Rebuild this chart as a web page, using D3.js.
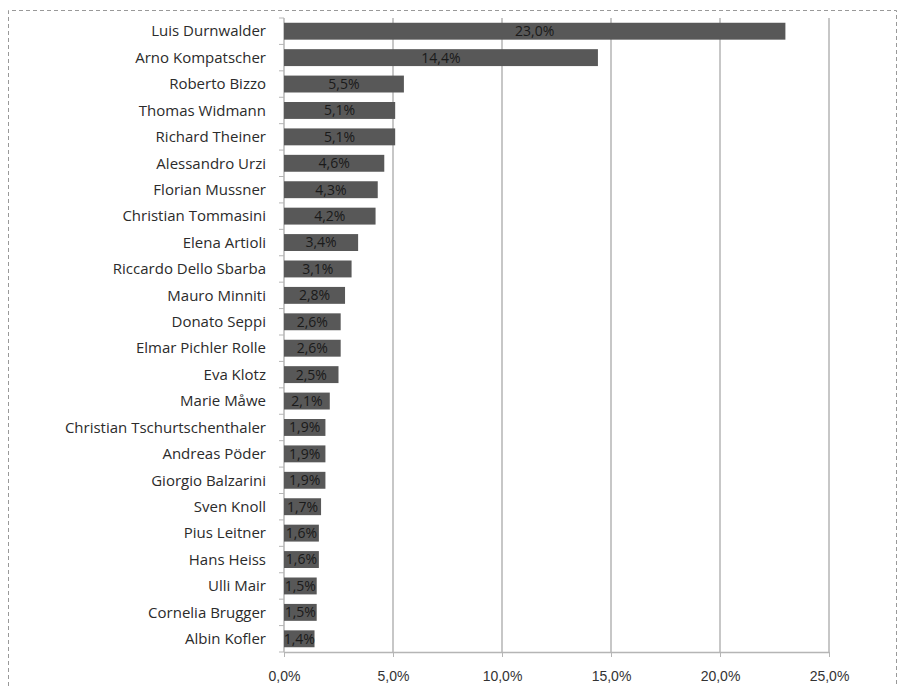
<!DOCTYPE html>
<html>
<head>
<meta charset="utf-8">
<script src="https://d3js.org/d3.v7.min.js"></script>
<style>
    body { margin: 0; background: #fff; }
    svg { display: block; font-family: "Open Sans", Lato, sans-serif; }
</style>
</head>
<body>
<svg width="897" height="686"></svg>
<script>
    // candidate names, top to bottom
    const names = [
        "Luis Durnwalder", "Arno Kompatscher", "Roberto Bizzo", "Thomas Widmann",
        "Richard Theiner", "Alessandro Urzi", "Florian Mussner", "Christian Tommasini",
        "Elena Artioli", "Riccardo Dello Sbarba", "Mauro Minniti", "Donato Seppi",
        "Elmar Pichler Rolle", "Eva Klotz", "Marie Måwe", "Christian Tschurtschenthaler",
        "Andreas Pöder", "Giorgio Balzarini", "Sven Knoll", "Pius Leitner",
        "Hans Heiss", "Ulli Mair", "Cornelia Brugger", "Albin Kofler"
    ];
    // share in percent
    const shares = [
        23.0, 14.4, 5.5, 5.1, 5.1, 4.6, 4.3, 4.2,
        3.4, 3.1, 2.8, 2.6, 2.6, 2.5, 2.1, 1.9,
        1.9, 1.9, 1.7, 1.6, 1.6, 1.5, 1.5, 1.4
    ];
    const xTicks = [0, 5, 10, 15, 20, 25];

    const data = names.map((n, i) => ({ name: n, value: shares[i] }));
    const fmt = v => v.toFixed(1).replace(".", ",") + "%";

    const svg = d3.select("svg");
    const margin = { top: 18, left: 284, right: 68, bottom: 34 };
    const width = 897 - margin.left - margin.right;
    const height = 686 - margin.top - margin.bottom;

    // dashed frame around the picture
    svg.append("path")
        .attr("d", "M8.5,686 V10.5 H896.5 V686")
        .attr("fill", "none")
        .attr("stroke", "#999")
        .attr("stroke-dasharray", "4,3");

    const g = svg.append("g").attr("transform", `translate(${margin.left},${margin.top})`);

    const x = d3.scaleLinear().domain([0, 25]).range([0, width]);
    const y = d3.scaleBand().domain(names).range([0, height]).paddingInner(0.36).paddingOuter(0.18);

    // vertical gridlines
    g.selectAll(".grid").data(xTicks.slice(1)).enter().append("line")
        .attr("x1", d => x(d)).attr("x2", d => x(d))
        .attr("y1", 0).attr("y2", height)
        .attr("stroke", "#b5b5b5").attr("stroke-width", 1.5);

    // x axis
    const xAxis = g.append("g")
        .attr("transform", `translate(0,${height})`)
        .call(d3.axisBottom(x).tickValues(xTicks).tickFormat(fmt).tickSize(5).tickSizeOuter(0));
    xAxis.select(".domain").attr("stroke", "#b5b5b5").attr("stroke-width", 1.5);
    xAxis.selectAll(".tick line").attr("stroke", "#b5b5b5");
    xAxis.selectAll("text").attr("fill", "#333").attr("font-size", 14).attr("dy", "1.5em");

    // y axis: line with ticks at band boundaries
    g.append("line")
        .attr("x1", 0).attr("x2", 0).attr("y1", 0).attr("y2", height)
        .attr("stroke", "#b5b5b5").attr("stroke-width", 1.5);
    const step = height / names.length;
    g.selectAll(".ytick").data(d3.range(names.length + 1)).enter().append("line")
        .attr("x1", -5).attr("x2", 0)
        .attr("y1", d => d * step).attr("y2", d => d * step)
        .attr("stroke", "#b5b5b5");

    g.selectAll(".name").data(data).enter().append("text")
        .attr("x", -18)
        .attr("y", d => y(d.name) + y.bandwidth() / 2)
        .attr("dy", "0.35em")
        .attr("text-anchor", "end")
        .attr("font-size", 15)
        .attr("fill", "#2b2b2b")
        .text(d => d.name);

    // bars
    g.selectAll(".bar").data(data).enter().append("rect")
        .attr("x", 0)
        .attr("y", d => y(d.name))
        .attr("width", d => x(d.value))
        .attr("height", y.bandwidth())
        .attr("fill", "#585858");

    // value labels centered in the bars
    g.selectAll(".val").data(data).enter().append("text")
        .attr("x", d => x(d.value) / 2)
        .attr("y", d => y(d.name) + y.bandwidth() / 2)
        .attr("dy", "0.35em")
        .attr("text-anchor", "middle")
        .attr("font-size", 14)
        .attr("fill", "#1a1a1a")
        .text(d => fmt(d.value));
</script>
</body>
</html>
